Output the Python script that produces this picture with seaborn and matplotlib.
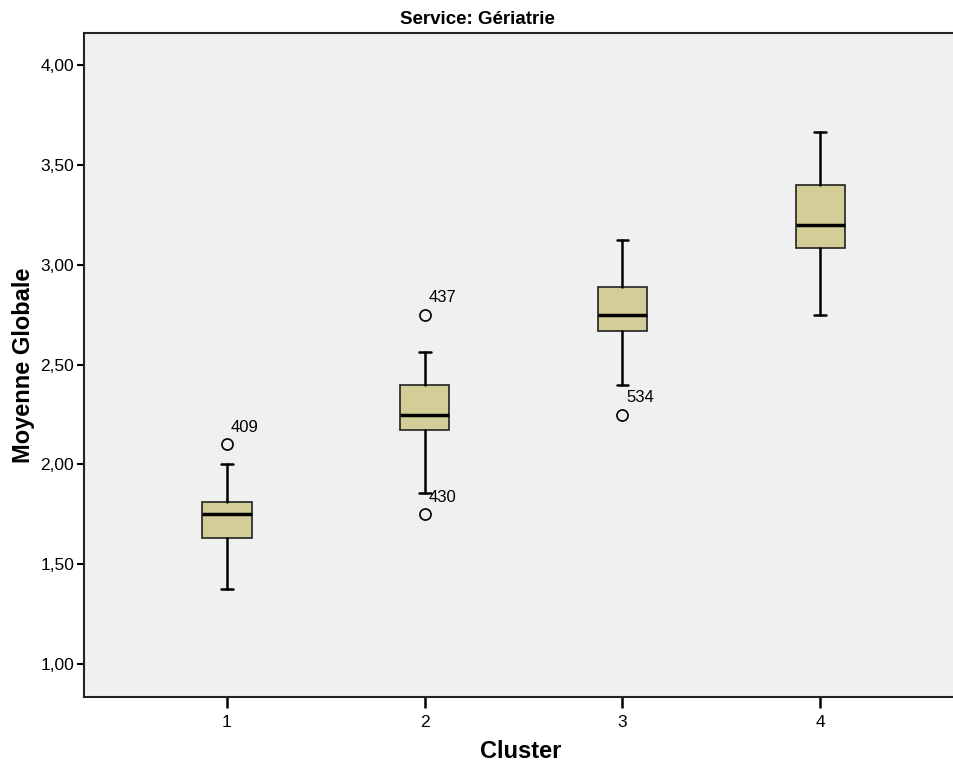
import numpy as np
import matplotlib.pyplot as plt
import seaborn as sns

clusters = ['1', '2', '3', '4']
whisker_low = [1.375, 1.857, 2.40, 2.75]
q1 = [1.63, 2.17, 2.667, 3.083]
median = [1.75, 2.25, 2.75, 3.20]
q3 = [1.81, 2.40, 2.889, 3.40]
whisker_high = [2.00, 2.563, 3.125, 3.667]
outliers = [[2.10], [2.75, 1.75], [2.25], []]
outlier_ids = [['409'], ['437', '430'], ['534'], []]

sns.set_theme(style='white')
plt.rcParams['font.family'] = ['Liberation Sans', 'DejaVu Sans']

fig = plt.figure(figsize=(9.54, 7.63), dpi=100)
ax = fig.add_axes([0.088, 0.0865, 0.915, 0.870])
ax.set_facecolor('#f0f0f0')

stats = []
for i in range(len(clusters)):
    stats.append({'whislo': whisker_low[i], 'q1': q1[i], 'med': median[i],
                  'q3': q3[i], 'whishi': whisker_high[i], 'fliers': outliers[i]})

pos = np.arange(1, len(clusters) + 1)
ax.bxp(stats, positions=pos, widths=0.25, patch_artist=True, showfliers=True,
       boxprops=dict(facecolor='#d3ce98', edgecolor='#222222', linewidth=1.2),
       medianprops=dict(color='black', linewidth=2.5),
       whiskerprops=dict(color='black', linewidth=1.8),
       capprops=dict(color='black', linewidth=1.8),
       capwidths=0.06,
       flierprops=dict(marker='o', markersize=8, markerfacecolor='none',
                       markeredgecolor='black', markeredgewidth=1.2))

# outlier case numbers
for i in range(len(clusters)):
    for val, lab in zip(outliers[i], outlier_ids[i]):
        ax.annotate(lab, (pos[i], val), xytext=(3, 9), textcoords='offset points',
                    fontsize=12, color='black')

ax.set_xlim(0.278, 4.69)
ax.set_ylim(0.835, 4.16)
ax.set_xticks(pos)
ax.set_xticklabels(clusters)
yt = [1.0, 1.5, 2.0, 2.5, 3.0, 3.5, 4.0]
ax.set_yticks(yt)
ax.set_yticklabels([f'{v:.2f}'.replace('.', ',') for v in yt])
ax.tick_params(axis='y', direction='out', length=5, width=1.5, labelsize=12.5, colors='black', pad=2, left=True)
ax.tick_params(axis='x', direction='out', length=8, width=1.8, labelsize=12.5, colors='black', pad=5, bottom=True)
for s in ax.spines.values():
    s.set_color('#222222')
    s.set_linewidth(1.5)
ax.spines['right'].set_visible(False)

fig.suptitle('Service: Gériatrie', x=0.5, y=0.986, va='top', fontsize=13.5, fontweight='bold', color='black')
ax.set_xlabel('Cluster', fontsize=17, fontweight='bold', labelpad=7, color='black')
ax.set_ylabel('Moyenne Globale', fontsize=17, fontweight='bold', labelpad=4, color='black')

fig.savefig('out.png', dpi=100)
